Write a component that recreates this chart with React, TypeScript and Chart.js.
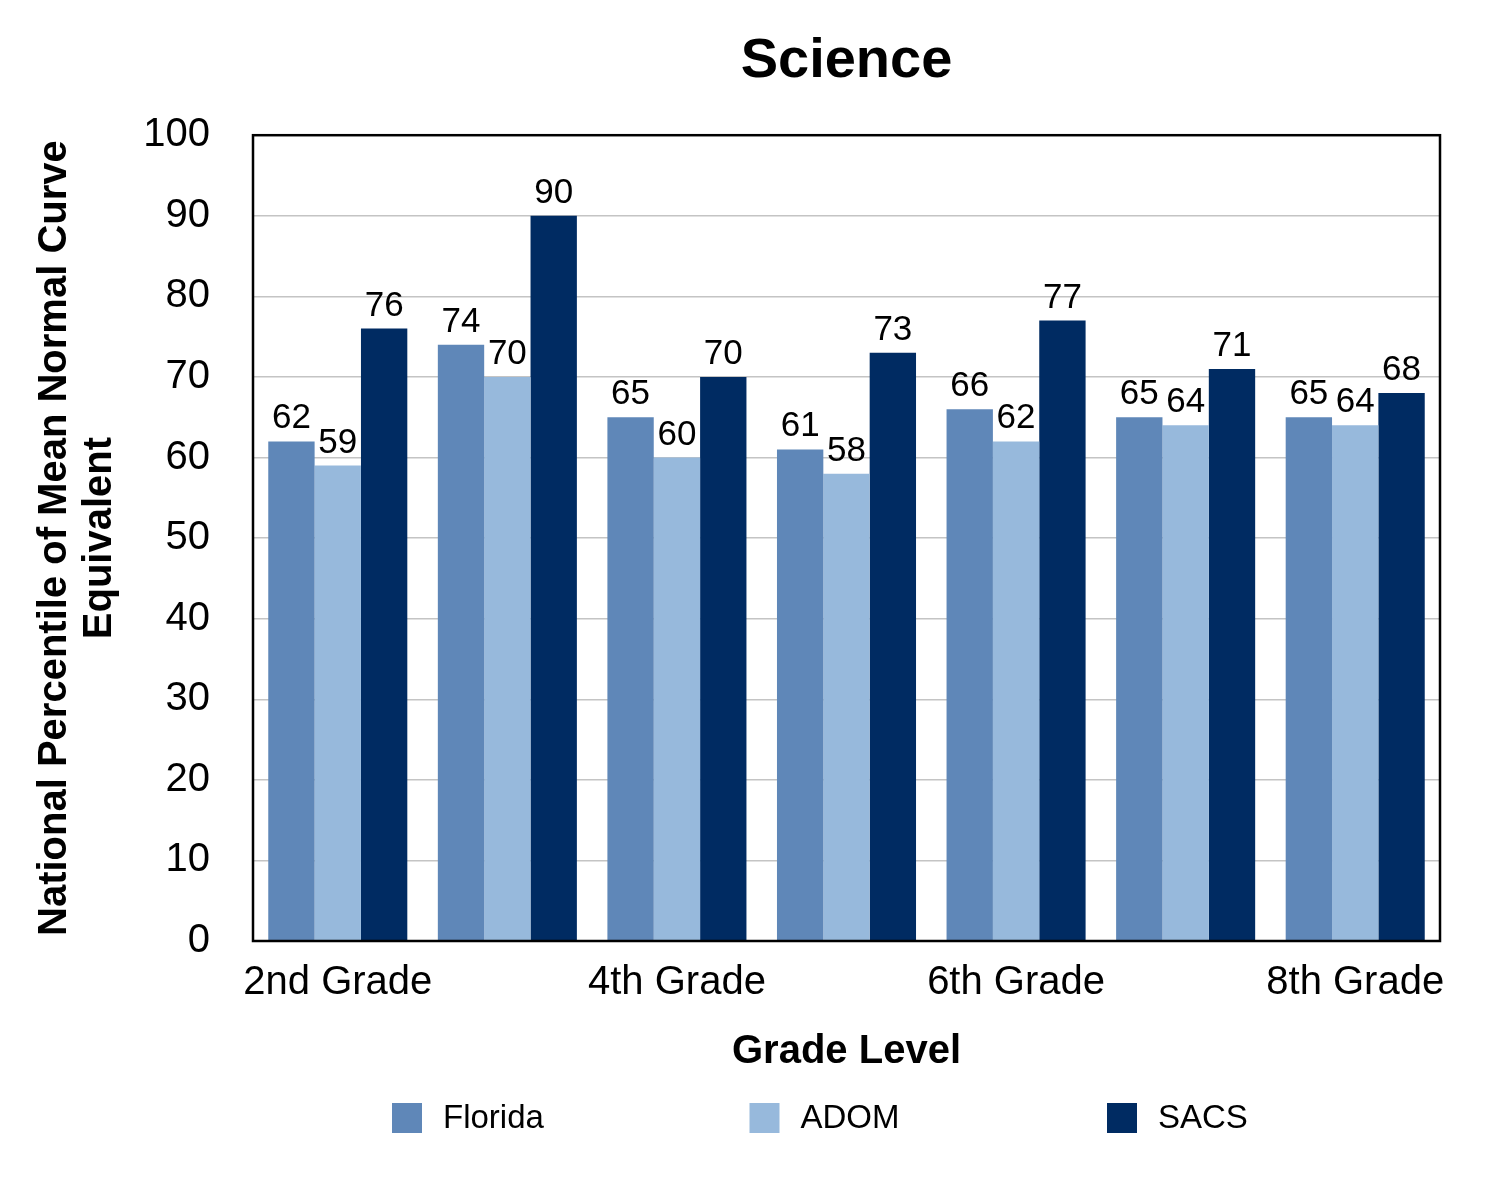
import React, { useEffect, useRef } from "react";
import { Chart, registerables } from "chart.js";

Chart.register(...registerables);

const categories = ["2nd Grade", "3rd Grade", "4th Grade", "5th Grade", "6th Grade", "7th Grade", "8th Grade"];
const floridaValues = [62, 74, 65, 61, 66, 65, 65];
const adomValues = [59, 70, 60, 58, 62, 64, 64];
const sacsValues = [76, 90, 70, 73, 77, 71, 68];
const seriesNames = ["Florida", "ADOM", "SACS"];
const seriesColors = ["#5f87b8", "#97b9dc", "#002b62"];
const yTicks = [0, 10, 20, 30, 40, 50, 60, 70, 80, 90, 100];

const FONT = "'Liberation Sans', Arial, Helvetica, sans-serif";

const frameAndLabels = {
  id: "frameAndLabels",
  afterDatasetsDraw(chart: any) {
    const ctx = chart.ctx;
    const { left, right, top, bottom } = chart.chartArea;
    ctx.save();
    ctx.font = `35px ${FONT}`;
    ctx.fillStyle = "#000";
    ctx.textAlign = "center";
    ctx.textBaseline = "alphabetic";
    chart.data.datasets.forEach((ds: any, di: number) => {
      const meta = chart.getDatasetMeta(di);
      meta.data.forEach((el: any, i: number) => {
        ctx.fillText(String(ds.data[i]), el.x, el.y - 13);
      });
    });
    ctx.strokeStyle = "#000";
    ctx.lineWidth = 2.5;
    ctx.strokeRect(left, top, right - left, bottom - top);
    ctx.restore();
  },
  afterDraw(chart: any) {
    const ctx = chart.ctx;
    ctx.save();
    ctx.font = `33px ${FONT}`;
    ctx.textBaseline = "middle";
    ctx.textAlign = "left";
    const startX = 392;
    const spacing = 357.5;
    const cy = 1118;
    chart.data.datasets.forEach((ds: any, di: number) => {
      const x = startX + di * spacing;
      ctx.fillStyle = ds.backgroundColor;
      ctx.fillRect(x, cy - 15, 30, 30);
      ctx.fillStyle = "#000";
      ctx.fillText(ds.label, x + 51, cy + 1);
    });
    ctx.restore();
  },
};

export default function App() {
  const ref = useRef<HTMLCanvasElement | null>(null);
  useEffect(() => {
    document.body.style.margin = "0";
    const canvas = ref.current!;
    const chart = new Chart(canvas, {
      type: "bar",
      data: {
        labels: categories,
        datasets: [
          { label: seriesNames[0], data: floridaValues, backgroundColor: seriesColors[0] },
          { label: seriesNames[1], data: adomValues, backgroundColor: seriesColors[1] },
          { label: seriesNames[2], data: sacsValues, backgroundColor: seriesColors[2] },
        ],
      },
      options: {
        responsive: false,
        animation: false,
        datasets: { bar: { categoryPercentage: 0.82, barPercentage: 1.0 } },
        layout: { padding: { left: 22, right: 58, top: 20, bottom: 104 } },
        plugins: {
          legend: { display: false },
          tooltip: { enabled: false },
          title: {
            display: true,
            fullSize: false,
            text: "Science",
            color: "#000",
            font: { family: FONT, size: 56, weight: "bold", lineHeight: 1.2 },
            padding: { top: 8, bottom: 40 },
          },
        },
        scales: {
          x: {
            grid: { display: false, drawTicks: false },
            border: { display: false },
            ticks: {
              color: "#000",
              font: { family: FONT, size: 40 },
              autoSkip: false,
              maxRotation: 0,
              padding: 18,
              callback: (_v: any, i: number) => (i % 2 === 0 ? categories[i] : ""),
            },
            title: {
              display: true,
              text: "Grade Level",
              color: "#000",
              font: { family: FONT, size: 40, weight: "bold" },
              padding: { top: 3, bottom: 0 },
            },
          },
          y: {
            min: 0,
            max: 100,
            afterBuildTicks: (axis: any) => {
              axis.ticks = yTicks.map((v) => ({ value: v }));
            },
            afterFit: (axis: any) => {
              axis.width = 231;
            },
            grid: { color: "#c4c4c4", lineWidth: 1.5, drawTicks: false },
            border: { display: false },
            ticks: {
              color: "#000",
              font: { family: FONT, size: 40 },
              padding: 43,
            },
            title: {
              display: true,
              text: ["National Percentile of Mean Normal Curve", "Equivalent"],
              color: "#000",
              font: { family: FONT, size: 40, weight: "bold", lineHeight: 1.13 },
              padding: { top: 10, bottom: 0 },
            },
          },
        },
      },
      plugins: [frameAndLabels],
    });
    return () => chart.destroy();
  }, []);
  return <canvas ref={ref} width={1498} height={1180} style={{ display: "block" }} />;
}
